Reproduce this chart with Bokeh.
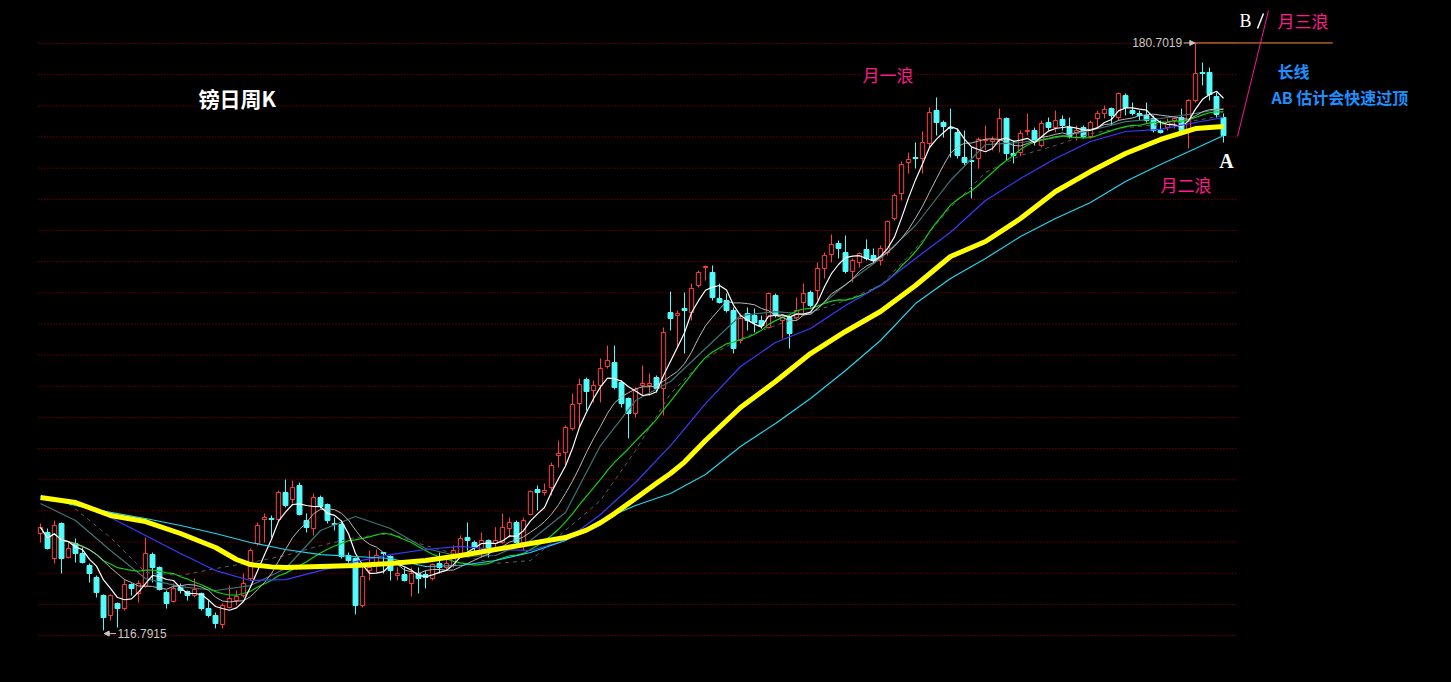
import numpy as np
import pandas as pd
from bokeh.plotting import figure
from bokeh.models import Range1d, Label, Arrow, NormalHead, ColumnDataSource
from bokeh.embed import file_html
from bokeh.resources import INLINE

# ---------------- data (GBP/JPY weekly candles) ----------------
opens = [127.33, 127.44, 124.61, 128.42, 124.72, 126.24, 125.15, 123.85, 122.54, 120.58,
         118.41, 119.71, 119.17, 121.78, 120.80, 121.56, 125.04, 123.63, 120.91, 119.93,
         121.45, 121.02, 120.58, 120.80, 119.17, 118.41, 117.43, 119.28, 120.04, 120.58,
         122.43, 126.24, 128.85, 128.96, 128.85, 131.79, 131.03, 132.55, 128.74, 127.87,
         131.25, 130.48, 128.42, 128.31, 124.94, 124.61, 119.50, 123.30, 124.17, 125.26,
         124.83, 122.76, 122.87, 121.89, 122.98, 122.87, 122.43, 124.07, 123.63, 123.85,
         125.15, 126.89, 126.35, 125.48, 126.57, 126.24, 126.35, 127.87, 128.53, 126.35,
         129.40, 132.12, 131.79, 132.33, 135.81, 136.14, 138.75, 141.47, 144.08, 142.89,
         143.43, 145.50, 145.93, 143.76, 142.02, 140.39, 143.43, 143.43, 144.30, 143.11,
         151.37, 151.05, 151.81, 151.37, 154.31, 156.27, 155.73, 152.90, 152.68, 151.59,
         148.33, 151.27, 151.05, 150.50, 149.74, 153.22, 150.50, 150.83, 150.83, 152.46,
         153.55, 153.77, 156.16, 157.68, 158.88, 157.90, 155.84, 156.81, 158.23, 157.58,
         157.03, 157.90, 161.60, 164.32, 167.69, 168.24, 168.13, 169.76, 173.35, 172.05,
         171.50, 170.96, 168.24, 167.91, 168.13, 170.09, 169.98, 170.09, 172.48, 168.67,
         168.78, 171.07, 171.18, 169.54, 172.05, 171.50, 172.37, 171.50, 170.85, 171.50,
         170.52, 172.48, 173.03, 173.57, 172.59, 174.98, 173.35, 173.03, 172.81, 172.48,
         171.18, 171.50, 172.26, 172.59, 171.18, 174.44, 177.49, 177.49, 174.88, 172.59]
highs = [128.42, 127.87, 128.74, 128.53, 126.35, 126.79, 125.81, 124.07, 122.76, 120.70,
         120.70, 119.82, 122.32, 121.89, 122.22, 126.89, 125.26, 123.74, 121.13, 121.89,
         121.89, 121.13, 122.43, 120.90, 120.04, 118.73, 119.71, 121.67, 121.13, 122.98,
         125.70, 128.53, 129.51, 129.29, 132.01, 133.20, 133.10, 132.88, 129.51, 131.68,
         131.46, 130.59, 129.07, 128.74, 125.26, 124.72, 124.07, 125.48, 125.59, 125.30,
         124.94, 123.63, 123.63, 123.63, 123.63, 123.30, 124.07, 125.26, 124.72, 126.02,
         127.11, 128.53, 126.57, 127.44, 126.68, 128.02, 129.51, 129.07, 128.74, 129.07,
         132.01, 132.55, 132.77, 135.05, 137.45, 139.08, 142.56, 144.19, 144.30, 143.98,
         146.37, 147.78, 147.78, 143.98, 142.13, 143.22, 145.61, 144.74, 144.52, 149.74,
         153.66, 151.59, 153.55, 154.53, 155.94, 156.49, 156.49, 154.53, 153.44, 151.92,
         151.27, 151.92, 151.81, 151.05, 153.55, 153.44, 151.05, 151.05, 153.01, 154.53,
         153.77, 156.81, 157.90, 159.86, 159.21, 159.75, 157.25, 157.90, 159.32, 158.34,
         158.66, 161.38, 164.32, 167.80, 168.78, 169.87, 171.07, 173.68, 174.77, 172.26,
         173.57, 171.39, 171.18, 169.33, 170.41, 171.72, 170.52, 173.57, 172.59, 170.09,
         171.18, 173.03, 171.50, 172.26, 172.59, 173.35, 172.81, 172.59, 171.72, 171.72,
         172.26, 173.35, 173.90, 173.68, 175.31, 175.20, 174.22, 173.35, 174.22, 172.81,
         172.26, 172.48, 172.59, 173.57, 174.55, 180.7019, 178.57, 178.03, 175.31, 173.03]
lows = [126.35, 125.59, 124.07, 122.98, 124.61, 124.17, 124.07, 122.00, 120.37, 116.7915,
        117.86, 117.10, 118.95, 120.58, 119.82, 121.45, 122.00, 121.13, 119.17, 119.82,
        120.80, 120.04, 120.37, 118.95, 118.19, 117.00, 117.00, 119.17, 119.50, 120.37,
        122.22, 126.02, 126.35, 126.89, 128.74, 130.16, 130.59, 129.29, 127.44, 127.11,
        130.05, 128.42, 127.66, 124.61, 124.07, 118.52, 119.28, 122.22, 123.09, 122.98,
        122.22, 122.22, 122.11, 120.47, 120.80, 121.35, 122.22, 122.98, 123.30, 123.63,
        124.94, 125.48, 125.15, 124.72, 124.72, 125.81, 126.24, 126.89, 126.24, 125.48,
        129.29, 129.83, 131.46, 131.46, 134.51, 134.73, 138.54, 138.86, 140.71, 141.58,
        141.58, 145.28, 143.00, 141.04, 137.67, 139.95, 142.34, 142.34, 142.67, 140.17,
        149.42, 147.57, 146.91, 150.50, 154.09, 154.86, 152.68, 152.35, 151.37, 146.91,
        148.00, 149.42, 149.20, 149.63, 149.63, 150.83, 148.54, 147.46, 150.50, 151.27,
        151.92, 152.68, 155.07, 156.81, 157.25, 155.62, 154.64, 156.27, 157.03, 156.70,
        156.49, 157.58, 161.38, 163.56, 166.50, 167.04, 166.50, 169.33, 170.63, 170.41,
        168.24, 168.13, 167.37, 163.78, 167.04, 169.00, 169.00, 168.78, 167.91, 167.58,
        168.35, 170.63, 169.54, 169.33, 171.18, 170.96, 171.18, 170.31, 170.09, 170.31,
        170.31, 171.50, 172.48, 171.72, 172.26, 172.81, 172.81, 172.26, 172.05, 170.96,
        170.85, 171.18, 171.39, 170.96, 169.22, 174.22, 176.07, 174.44, 172.59, 169.87]
closes = [127.98, 125.70, 128.20, 124.61, 125.70, 125.15, 124.17, 122.98, 120.91, 118.19,
          120.58, 119.17, 121.78, 121.35, 121.89, 125.15, 123.63, 121.24, 119.71, 121.35,
          121.13, 120.58, 121.24, 119.17, 118.41, 117.54, 119.50, 120.26, 120.47, 121.89,
          125.48, 128.20, 129.07, 128.85, 131.79, 130.38, 132.33, 129.40, 127.98, 131.25,
          130.27, 128.74, 128.31, 124.83, 124.39, 119.50, 122.65, 123.63, 124.94, 125.15,
          123.30, 122.98, 122.22, 122.98, 122.43, 122.54, 123.96, 123.63, 124.07, 125.48,
          126.79, 126.57, 125.81, 126.57, 125.70, 126.57, 127.98, 128.53, 126.35, 128.74,
          131.90, 131.79, 132.01, 134.73, 136.03, 138.86, 141.36, 143.54, 142.78, 143.43,
          145.28, 146.15, 143.22, 141.47, 140.39, 142.99, 143.65, 143.65, 143.11, 149.20,
          150.72, 151.27, 151.59, 153.99, 155.73, 156.38, 153.01, 152.46, 151.59, 147.46,
          150.72, 150.50, 150.29, 149.96, 153.44, 151.05, 150.83, 149.09, 151.59, 153.44,
          152.14, 156.16, 157.58, 158.77, 158.34, 155.84, 157.03, 157.79, 157.25, 157.03,
          158.34, 161.28, 164.10, 167.48, 168.02, 168.13, 169.87, 173.13, 172.05, 171.61,
          171.39, 168.46, 167.69, 167.80, 170.20, 170.20, 170.20, 172.48, 168.67, 168.46,
          170.85, 171.18, 170.09, 171.94, 171.50, 172.26, 171.72, 170.52, 171.18, 170.52,
          172.05, 173.03, 173.46, 172.81, 175.20, 173.68, 173.03, 172.81, 172.26, 171.18,
          170.96, 172.05, 172.48, 171.18, 174.44, 177.38, 177.38, 175.09, 172.92, 170.63]

# long moving averages (values read at sampled candles)
yellow_idx = [0, 5, 10, 15, 20, 25, 28, 30, 33, 35, 40, 45, 50, 55, 60, 65, 70, 75, 78, 80,
              82, 85, 88, 90, 92, 95, 100, 105, 110, 115, 120, 125, 130, 135, 140, 145, 150,
              155, 160, 165, 169]
ma_yellow = [131.25, 130.70, 129.29, 128.63, 127.33, 125.81, 124.50, 123.95, 123.70, 123.63,
             123.74, 123.85, 124.07, 124.39, 124.94, 125.59, 126.24, 126.89, 127.70, 128.50,
             129.50, 131.14, 132.80, 133.86, 135.10, 137.45, 141.04, 143.87, 146.91, 149.31,
             151.48, 154.31, 157.47, 159.10, 161.60, 164.54, 166.71, 168.67, 170.20, 171.39,
             171.61]
ma_idx = [0, 5, 10, 15, 20, 25, 30, 35, 40, 45, 50, 55, 60, 65, 70, 75, 80, 85, 90, 95,
          100, 105, 110, 115, 120, 125, 130, 135, 140, 145, 150, 155, 160, 165, 169]
ma_cyan = [131.36, 130.38, 129.62, 128.96, 128.20, 127.33, 126.35, 125.59, 125.04, 124.83,
           124.61, 123.74, 123.85, 124.39, 125.26, 126.57, 128.74, 130.38, 131.68, 133.75,
           136.80, 139.30, 142.02, 145.06, 148.33, 152.35, 155.07, 157.25, 159.64, 161.60,
           163.34, 165.63, 167.48, 169.22, 170.63]
ma_blue = [131.36, 130.60, 129.07, 127.11, 125.15, 123.30, 122.22, 122.32, 123.30, 124.28,
           125.04, 125.59, 125.92, 125.59, 125.48, 126.57, 129.40, 132.88, 136.90, 141.47,
           145.50, 148.11, 149.63, 152.14, 154.31, 157.25, 160.10, 163.56, 165.95, 168.13,
           169.98, 171.07, 171.29, 172.05, 172.59]
ma_slate = [130.60, 128.74, 125.48, 122.43, 121.56, 121.13, 121.67, 123.52, 127.66, 129.18,
            127.87, 125.70, 124.83, 124.94, 126.57, 129.62, 136.90, 141.80, 143.87, 147.46,
            151.05, 151.48, 151.16, 154.42, 157.25, 160.84, 165.74, 169.65, 169.87, 170.41,
            171.18, 172.15, 172.48, 173.03, 173.57]
ma_dash_idx = [4, 10, 15, 20, 25, 30, 35, 40, 45, 50, 55, 60, 65, 70, 75, 80, 85, 90, 95,
               100, 105, 110, 115, 120, 125, 130, 135, 140, 145, 150, 155, 160, 165, 169]
ma_dash = [130.60, 126.89, 123.09, 122.76, 123.52, 124.17, 124.94, 126.02, 126.89, 127.33,
           126.02, 124.94, 124.07, 124.39, 127.66, 130.92, 136.36, 142.56, 146.37, 148.54,
           149.96, 151.37, 152.68, 154.31, 158.34, 162.80, 166.61, 168.46, 169.54, 170.85,
           171.50, 171.83, 172.26, 172.81]

grid_levels = [180.64, 177.25, 173.86, 170.47, 167.08, 163.69, 160.30, 156.91, 153.52, 150.13,
               146.74, 143.35, 139.96, 136.57, 133.18, 129.79, 126.40, 123.01, 119.62, 116.23]

# ---------------- derived ----------------
o = np.array(opens); h = np.array(highs); l = np.array(lows); c = np.array(closes)
idx = np.arange(len(c))
up = c >= o
cs = pd.Series(c)
ma5 = cs.rolling(5, min_periods=1).mean().values
ma10 = cs.rolling(10, min_periods=1).mean().values
ma20 = cs.rolling(20, min_periods=1).mean().values

RED = "#ff3c3c"
CYAN = "#54fcfc"

p = figure(width=1451, height=682, output_backend="svg", toolbar_location=None,
           x_axis_type=None, y_axis_type=None,
           x_range=Range1d(-5.714, 201.571), y_range=Range1d(111.12, 185.32),
           background_fill_color="black", border_fill_color="black", min_border=0)
p.outline_line_color = None

# gridlines
gx0 = [-0.3] * len(grid_levels)
gx1 = [171.0] * len(grid_levels)
p.segment(x0=gx0, y0=grid_levels, x1=gx1, y1=grid_levels, line_color="#a00000",
          line_width=1, line_dash="1 2")

# candles
src_up = ColumnDataSource(dict(x=idx[up], h=h[up], l=l[up], top=c[up], bot=o[up]))
src_dn = ColumnDataSource(dict(x=idx[~up], h=h[~up], l=l[~up], top=o[~up], bot=c[~up]))
p.segment(x0="x", y0="l", x1="x", y1="h", source=src_up, line_color=RED, line_width=1)
p.segment(x0="x", y0="l", x1="x", y1="h", source=src_dn, line_color=CYAN, line_width=1)
p.vbar(x="x", width=0.62, top="top", bottom="bot", source=src_up,
       fill_color="black", line_color=RED, line_width=1)
p.vbar(x="x", width=0.7, top="top", bottom="bot", source=src_dn,
       fill_color=CYAN, line_color=CYAN, line_width=1)

# moving averages
p.line(ma_dash_idx, ma_dash, line_color="#5a5a5a", line_width=1, line_dash="4 4")
p.line(ma_idx, ma_slate, line_color="#3f7373", line_width=1.2)
p.line(idx, ma20, line_color="#10d010", line_width=1.2)
p.line(idx, ma10, line_color="#b8b8b8", line_width=1)
p.line(idx, ma5, line_color="#ffffff", line_width=1.2)
p.line(ma_idx, ma_blue, line_color="#3a3aff", line_width=1.2)
p.line(ma_idx, ma_cyan, line_color="#22d6ee", line_width=1.2)
p.line(yellow_idx, ma_yellow, line_color="#ffff00", line_width=5, line_join="round")

# extreme value markers
imax = int(np.argmax(h)); imin = int(np.argmin(l))
p.segment(x0=[imax - 0.3], y0=[h[imax]], x1=[imax + 19.6], y1=[h[imax]],
          line_color="#ff8c40", line_width=1)
p.add_layout(Arrow(end=NormalHead(size=5, line_color="#c8c8c8", fill_color="#c8c8c8"),
                   x_start=imax - 1.7, y_start=h[imax], x_end=imax - 0.1, y_end=h[imax],
                   line_color="#c8c8c8", line_width=1))
p.add_layout(Label(x=imax - 1.9, y=h[imax], text="180.7019", text_align="right",
                   text_baseline="middle", text_font="Liberation Sans", text_font_size="12px",
                   text_color="#c8c8c8"))
p.add_layout(Arrow(end=NormalHead(size=5, line_color="#c8c8c8", fill_color="#c8c8c8"),
                   x_start=imin + 1.8, y_start=l[imin] - 0.35, x_end=imin + 0.1, y_end=l[imin] - 0.35,
                   line_color="#c8c8c8", line_width=1))
p.add_layout(Label(x=imin + 2.0, y=l[imin] - 0.35, text="116.7915", text_align="left",
                   text_baseline="middle", text_font="Liberation Sans", text_font_size="12px",
                   text_color="#c8c8c8"))

# wave line A -> B
p.line([171.0, 175.43], [170.52, 184.23], line_color="#ff1493", line_width=1)
p.line([173.86, 174.71], [182.27, 183.90], line_color="#ffffff", line_width=1.5)

PINK = "#ff1a8c"
BLUE = "#1e90ff"
CJK = "Noto Sans CJK SC"
labels = [
    ("镑日周K", 22.57, 174.66, "left", "21px", "bold", "#ffffff", CJK),
    ("月一浪", 117.43, 177.27, "left", "17px", "normal", PINK, CJK),
    ("B", 172.14, 183.14, "center", "18px", "normal", "#ffffff", "Liberation Serif"),
    ("月三浪", 176.71, 183.14, "left", "17px", "normal", PINK, CJK),
    ("长线", 176.71, 177.70, "left", "16px", "bold", BLUE, CJK),
    ("AB 估计会快速过顶", 175.86, 174.87, "left", "16px", "bold", BLUE, CJK),
    ("A", 169.43, 167.91, "center", "20px", "bold", "#ffffff", "Liberation Serif"),
    ("月二浪", 160.0, 165.30, "left", "17px", "normal", PINK, CJK),
]
for t, x, y, al, sz, st, col, fnt in labels:
    p.add_layout(Label(x=x, y=y, text=t, text_align=al, text_baseline="middle",
                       text_font=fnt, text_font_size=sz, text_font_style=st,
                       text_color=col, background_fill_color="black"))

html = file_html(p, INLINE)
html = html.replace("<head>", "<head><style>html,body{background:#000;overflow:hidden;}</style>", 1)
open("out.html", "w").write(html)
